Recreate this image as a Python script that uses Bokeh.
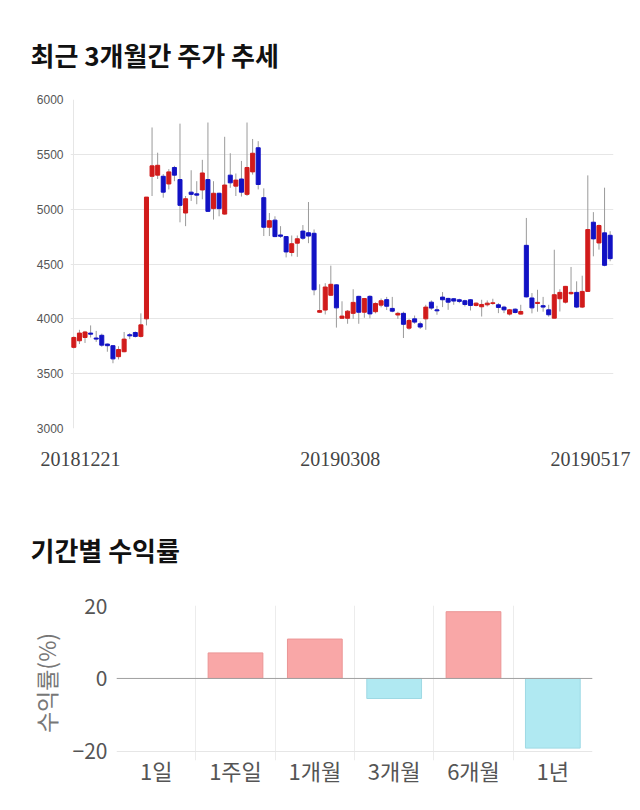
from bokeh.plotting import figure
from bokeh.models import Range1d, FixedTicker, Span, ColumnDataSource
from bokeh.embed import file_html
from bokeh.resources import INLINE

# ---------------- data: 3-month daily candles ----------------
date_labels = ["20181221", "20190308", "20190517"]
date_label_index = [0, 48, 96]

open_ = [3740, 3800, 3830, 3870, 3825, 3850, 3770, 3755, 3655, 3700,
         3855, 3875, 3840, 4000, 5300, 5310, 5300, 5230, 5380, 5270,
         4965, 5155, 5140, 5175, 5270, 5005, 5145, 4955, 5310, 5210,
         5275, 5135, 5340, 5560, 5105, 4835, 4900, 4765, 4750, 4605,
         4690, 4800, 4785, 4780, 4060, 4080, 4215, 4310, 4005, 4005,
         4050, 4205, 4060, 4205, 4065, 4125, 4175, 4095, 4035, 4050,
         3915, 4000, 3955, 4000, 4152, 4082, 4198, 4186, 4183, 4174,
         4165, 4174, 4122, 4110, 4128, 4140, 4128, 4107, 4043, 4088,
         4043, 4670, 4190, 4140, 4120, 4082, 4006, 4183, 4152, 4229,
         4241, 4107, 4250, 4881, 4692, 4784, 4762]
high = [3840, 3900, 3890, 3940, 3890, 3865, 3775, 3760, 3750, 3880,
        3870, 3885, 4050, 5110, 5745, 5515, 5320, 5365, 5395, 5780,
        5120, 5355, 5255, 5450, 5790, 5255, 5150, 5660, 5510, 5325,
        5440, 5790, 5640, 5620, 5190, 4965, 4935, 4845, 4755, 4760,
        4760, 4855, 5065, 4815, 4315, 4325, 4485, 4315, 4160, 4080,
        4270, 4210, 4190, 4215, 4150, 4185, 4200, 4200, 4064, 4065,
        4000, 4030, 3975, 4128, 4168, 4119, 4244, 4192, 4189, 4183,
        4174, 4180, 4149, 4174, 4168, 4183, 4143, 4119, 4090, 4095,
        4128, 4920, 4235, 4265, 4200, 4128, 4630, 4270, 4300, 4473,
        4342, 4393, 5308, 4973, 4860, 5196, 4799]
low = [3730, 3770, 3780, 3830, 3790, 3745, 3700, 3595, 3630, 3695,
       3815, 3830, 3830, 3940, 5120, 5275, 5105, 5180, 5255, 4880,
       4845, 5075, 5045, 5090, 4975, 4905, 4935, 4950, 5195, 5120,
       5115, 5120, 5315, 5180, 4755, 4755, 4745, 4738, 4560, 4570,
       4565, 4720, 4690, 4215, 4055, 4040, 4210, 3920, 4000, 3955,
       4000, 3955, 4010, 4005, 4050, 4105, 4080, 4060, 4000, 3825,
       3900, 3955, 3908, 3900, 4082, 4037, 4107, 4082, 4128, 4143,
       4113, 4076, 4113, 4021, 4113, 4128, 4052, 4052, 4030, 4050,
       4040, 4195, 4050, 4065, 4065, 4020, 4005, 4067, 4140, 4220,
       4098, 4098, 4250, 4570, 4631, 4479, 4525]
close = [3830, 3870, 3880, 3860, 3815, 3760, 3755, 3635, 3720, 3815,
         3845, 3840, 3945, 5110, 5395, 5400, 5155, 5340, 5310, 5035,
         5095, 5135, 5128, 5330, 4980, 5145, 5005, 5220, 5240, 5265,
         5155, 5380, 5510, 5225, 4835, 4895, 4750, 4753, 4610, 4685,
         4730, 4735, 4755, 4265, 4075, 4290, 4315, 4100, 4025, 4070,
         4150, 4060, 4185, 4045, 4140, 4165, 4115, 4070, 4050, 3950,
         3985, 3970, 3925, 4107, 4098, 4073, 4174, 4152, 4162, 4159,
         4131, 4122, 4143, 4131, 4143, 4146, 4104, 4082, 4082, 4058,
         4067, 4200, 4100, 4150, 4107, 4037, 4220, 4241, 4296, 4241,
         4107, 4250, 4814, 4729, 4851, 4488, 4549]
price_ticks = [3000, 3500, 4000, 4500, 5000, 5500, 6000]

# ---------------- data: period returns ----------------
periods = ["1일", "1주일", "1개월", "3개월", "6개월", "1년"]
returns = [0.0, 7.0, 10.8, -5.5, 18.3, -19.1]
return_ticks = [-20, 0, 20]

UP = "#d11b1b"
DOWN = "#1212c4"
KFONT = "Noto Sans CJK KR"

n = len(close)
xs = list(range(n))
src = ColumnDataSource(dict(
    x=xs,
    high=high,
    low=low,
    top=[max(o, c) for o, c in zip(open_, close)],
    bottom=[min(o, c) for o, c in zip(open_, close)],
    color=[UP if c >= o else DOWN for o, c in zip(open_, close)],
))

p1 = figure(width=640, height=480, output_backend="svg", toolbar_location=None,
            x_range=Range1d(-0.6, n - 1 + 0.6), y_range=Range1d(3000, 6000),
            min_border_left=70, min_border_right=27, min_border_top=99,
            min_border_bottom=52)
p1.title.text = "최근 3개월간 주가 추세"
p1.title.text_font = KFONT
p1.title.text_font_size = "26px"
p1.title.text_font_style = "bold"
p1.title.text_color = "#111111"
p1.title.offset = -40
p1.title.vertical_align = "top"
p1.title.standoff = 49
p1.outline_line_color = None
p1.background_fill_color = "white"

p1.segment(x0="x", y0="low", x1="x", y1="high", source=src, color="#9a9a9a", line_width=1)
p1.vbar(x="x", top="top", bottom="bottom", width=0.72, source=src,
        fill_color="color", line_color="color", line_width=1)

p1.yaxis.ticker = FixedTicker(ticks=price_ticks)
p1.yaxis.axis_line_color = None
p1.yaxis.major_tick_line_color = None
p1.yaxis.minor_tick_line_color = None
p1.yaxis.major_tick_out = 0
p1.yaxis.major_tick_in = 0
p1.yaxis.major_label_text_font = "Liberation Sans"
p1.yaxis.major_label_text_font_size = "12px"
p1.yaxis.major_label_text_color = "#555555"
p1.yaxis.major_label_standoff = 7

# date labels on the x axis
label_pos = [1.2, 47.7, 92.5]
p1.xaxis.ticker = FixedTicker(ticks=label_pos)
p1.xaxis.major_label_overrides = {pos: lab for pos, lab in zip(label_pos, date_labels)}
p1.xaxis.axis_line_color = None
p1.xaxis.major_tick_line_color = None
p1.xaxis.minor_tick_line_color = None
p1.xaxis.major_tick_out = 0
p1.xaxis.major_tick_in = 0
p1.xaxis.major_label_text_font = "Liberation Serif"
p1.xaxis.major_label_text_font_size = "20px"
p1.xaxis.major_label_text_color = "#444444"
p1.xaxis.major_label_standoff = 23

p1.ygrid.ticker = FixedTicker(ticks=price_ticks)
p1.ygrid.grid_line_color = "#e6e6e6"
p1.xgrid.ticker = FixedTicker(ticks=[date_label_index[0]])
p1.xgrid.grid_line_color = "#e6e6e6"

# ---------------- returns bar chart ----------------
bsrc = ColumnDataSource(dict(
    x=[i + 0.5 for i in range(len(periods))],
    top=returns,
    fill=["#f9a7a7" if r >= 0 else "#b0e9f2" for r in returns],
    line=["#eb9595" if r >= 0 else "#9ed9e4" for r in returns],
    line_alpha=[0.0 if r == 0 else 1.0 for r in returns],
))

p2 = figure(width=640, height=330, output_backend="svg", toolbar_location=None,
            x_range=Range1d(0, len(periods)), y_range=Range1d(-22.5, 20),
            min_border_left=116, min_border_right=48, min_border_top=125,
            min_border_bottom=50)
p2.title.text = "기간별 수익률"
p2.title.text_font = KFONT
p2.title.text_font_size = "26px"
p2.title.text_font_style = "bold"
p2.title.text_color = "#111111"
p2.title.offset = -86
p2.title.vertical_align = "top"
p2.title.standoff = 72
p2.outline_line_color = None

p2.vbar(x="x", top="top", bottom=0, width=0.69, source=bsrc,
        fill_color="fill", line_color="line", line_alpha="line_alpha", line_width=1)

p2.ygrid.ticker = FixedTicker(ticks=return_ticks)
p2.ygrid.grid_line_color = "#e6e6e6"
p2.xgrid.ticker = FixedTicker(ticks=list(range(len(periods))))
p2.xgrid.grid_line_color = "#ececec"
p2.add_layout(Span(location=0, dimension="width", line_color="#a0a0a0", line_width=1))

p2.yaxis.ticker = FixedTicker(ticks=return_ticks)
p2.yaxis.axis_line_color = None
p2.yaxis.major_tick_line_color = None
p2.yaxis.minor_tick_line_color = None
p2.yaxis.major_tick_out = 0
p2.yaxis.major_tick_in = 0
p2.yaxis.major_label_text_font = KFONT
p2.yaxis.major_label_text_font_size = "21px"
p2.yaxis.major_label_text_color = "#555555"
p2.yaxis.major_label_standoff = 9
p2.yaxis.axis_label = "수익률(%)"
p2.yaxis.axis_label_text_font = KFONT
p2.yaxis.axis_label_text_font_size = "23px"
p2.yaxis.axis_label_text_font_style = "normal"
p2.yaxis.axis_label_text_color = "#777777"
p2.yaxis.axis_label_standoff = 7

cat_pos = [i + 0.5 for i in range(len(periods))]
p2.xaxis.ticker = FixedTicker(ticks=cat_pos)
p2.xaxis.major_label_overrides = {pos: lab for pos, lab in zip(cat_pos, periods)}
p2.xaxis.axis_line_color = None
p2.xaxis.major_tick_line_color = None
p2.xaxis.minor_tick_line_color = None
p2.xaxis.major_tick_out = 0
p2.xaxis.major_tick_in = 0
p2.xaxis.major_label_text_font = KFONT
p2.xaxis.major_label_text_font_size = "22px"
p2.xaxis.major_label_text_color = "#555555"
p2.xaxis.major_label_standoff = -7

open("out.html", "w").write(file_html([p1, p2], INLINE))
